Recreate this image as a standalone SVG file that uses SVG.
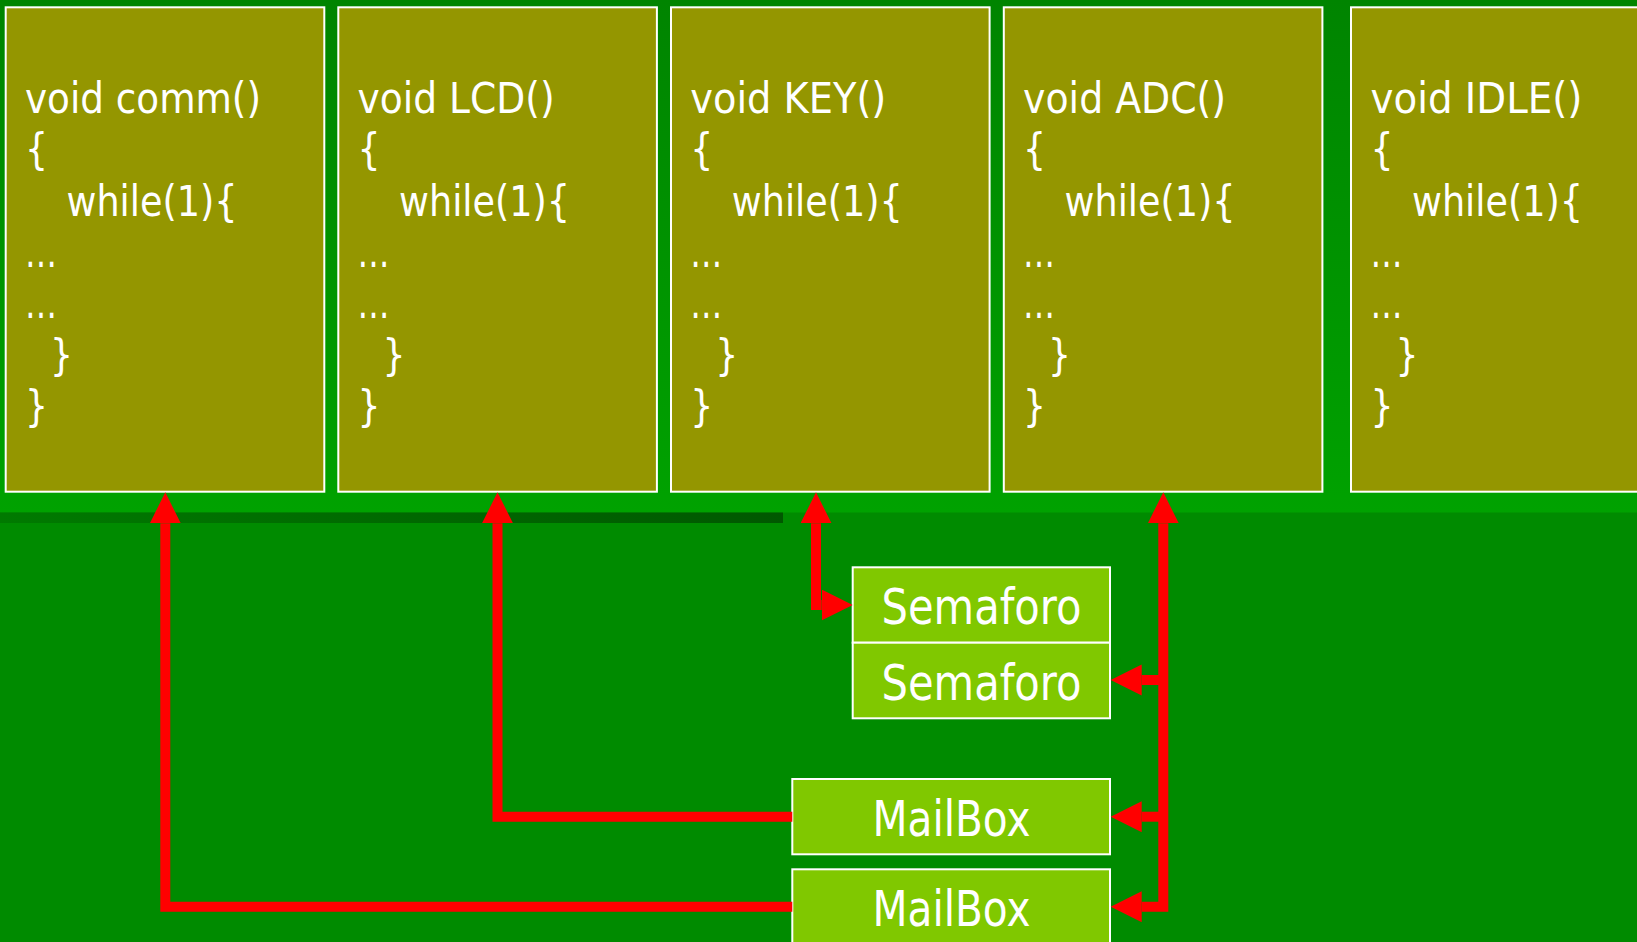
<svg xmlns="http://www.w3.org/2000/svg" width="1637" height="942" viewBox="0 0 1637 942">
<defs>
<linearGradient id="topband" x1="0" y1="0" x2="0" y2="1">
<stop offset="0" stop-color="#008400"/>
<stop offset="1" stop-color="#00a200"/>
</linearGradient>
<linearGradient id="darkbar" x1="0" y1="0" x2="1" y2="0">
<stop offset="0" stop-color="#007a00"/>
<stop offset="1" stop-color="#005800"/>
</linearGradient>
<marker id="ah" markerUnits="userSpaceOnUse" markerWidth="32" markerHeight="32" refX="0" refY="15.5" orient="auto-start-reverse" viewBox="0 0 32 32">
<path d="M0,0 L31,15.5 L0,31 Z" fill="#ff0000"/>
</marker>
<style>
.task{fill:#949600;stroke:#ffffff;stroke-width:2}
.code{font-family:"DejaVu Sans","Noto Sans",sans-serif;font-size:43px;fill:#ffffff}
.obj{fill:#80c800;stroke:#ffffff;stroke-width:2}
.lbl{font-family:"DejaVu Sans","Noto Sans",sans-serif;font-size:49px;fill:#ffffff;text-anchor:middle}
.wire{fill:none;stroke:#ff0000;stroke-width:10;stroke-linejoin:miter}
</style>
</defs>
<rect x="0" y="0" width="1637" height="942" fill="#008b00"/>
<rect x="0" y="0" width="1637" height="512.5" fill="url(#topband)"/>
<rect x="0" y="512.5" width="783" height="10.5" fill="url(#darkbar)"/>

<g id="task-comm">
<rect class="task" x="5.7" y="7.3" width="318.6" height="484.4"/>
<text class="code" x="25" y="113" textLength="236" lengthAdjust="spacingAndGlyphs">void comm()</text>
<text class="code" x="25" y="164" textLength="23" lengthAdjust="spacingAndGlyphs">{</text>
<text class="code" x="66.5" y="215.5" textLength="171" lengthAdjust="spacingAndGlyphs">while(1){</text>
<text class="code" x="25" y="267" textLength="32" lengthAdjust="spacingAndGlyphs">…</text>
<text class="code" x="25" y="318" textLength="32" lengthAdjust="spacingAndGlyphs">…</text>
<text class="code" x="50" y="369.5" textLength="23" lengthAdjust="spacingAndGlyphs">}</text>
<text class="code" x="25" y="421" textLength="23" lengthAdjust="spacingAndGlyphs">}</text>
</g>
<g id="task-lcd">
<rect class="task" x="338.3" y="7.3" width="318.6" height="484.4"/>
<text class="code" x="357.6" y="113" textLength="197" lengthAdjust="spacingAndGlyphs">void LCD()</text>
<text class="code" x="357.6" y="164" textLength="23" lengthAdjust="spacingAndGlyphs">{</text>
<text class="code" x="399.1" y="215.5" textLength="171" lengthAdjust="spacingAndGlyphs">while(1){</text>
<text class="code" x="357.6" y="267" textLength="32" lengthAdjust="spacingAndGlyphs">…</text>
<text class="code" x="357.6" y="318" textLength="32" lengthAdjust="spacingAndGlyphs">…</text>
<text class="code" x="382.6" y="369.5" textLength="23" lengthAdjust="spacingAndGlyphs">}</text>
<text class="code" x="357.6" y="421" textLength="23" lengthAdjust="spacingAndGlyphs">}</text>
</g>
<g id="task-key">
<rect class="task" x="671" y="7.3" width="318.6" height="484.4"/>
<text class="code" x="690.3" y="113" textLength="196" lengthAdjust="spacingAndGlyphs">void KEY()</text>
<text class="code" x="690.3" y="164" textLength="23" lengthAdjust="spacingAndGlyphs">{</text>
<text class="code" x="731.8" y="215.5" textLength="171" lengthAdjust="spacingAndGlyphs">while(1){</text>
<text class="code" x="690.3" y="267" textLength="32" lengthAdjust="spacingAndGlyphs">…</text>
<text class="code" x="690.3" y="318" textLength="32" lengthAdjust="spacingAndGlyphs">…</text>
<text class="code" x="715.3" y="369.5" textLength="23" lengthAdjust="spacingAndGlyphs">}</text>
<text class="code" x="690.3" y="421" textLength="23" lengthAdjust="spacingAndGlyphs">}</text>
</g>
<g id="task-adc">
<rect class="task" x="1003.8" y="7.3" width="318.6" height="484.4"/>
<text class="code" x="1023.1" y="113" textLength="203" lengthAdjust="spacingAndGlyphs">void ADC()</text>
<text class="code" x="1023.1" y="164" textLength="23" lengthAdjust="spacingAndGlyphs">{</text>
<text class="code" x="1064.6" y="215.5" textLength="171" lengthAdjust="spacingAndGlyphs">while(1){</text>
<text class="code" x="1023.1" y="267" textLength="32" lengthAdjust="spacingAndGlyphs">…</text>
<text class="code" x="1023.1" y="318" textLength="32" lengthAdjust="spacingAndGlyphs">…</text>
<text class="code" x="1048.1" y="369.5" textLength="23" lengthAdjust="spacingAndGlyphs">}</text>
<text class="code" x="1023.1" y="421" textLength="23" lengthAdjust="spacingAndGlyphs">}</text>
</g>
<g id="task-idle">
<rect class="task" x="1351" y="7.3" width="318.6" height="484.4"/>
<text class="code" x="1370.5" y="113" textLength="212" lengthAdjust="spacingAndGlyphs">void IDLE()</text>
<text class="code" x="1370.5" y="164" textLength="23" lengthAdjust="spacingAndGlyphs">{</text>
<text class="code" x="1412" y="215.5" textLength="171" lengthAdjust="spacingAndGlyphs">while(1){</text>
<text class="code" x="1370.5" y="267" textLength="32" lengthAdjust="spacingAndGlyphs">…</text>
<text class="code" x="1370.5" y="318" textLength="32" lengthAdjust="spacingAndGlyphs">…</text>
<text class="code" x="1395.5" y="369.5" textLength="23" lengthAdjust="spacingAndGlyphs">}</text>
<text class="code" x="1370.5" y="421" textLength="23" lengthAdjust="spacingAndGlyphs">}</text>
</g>

<g id="sem1">
<rect class="obj" x="852.7" y="567.3" width="257.3" height="75.4"/>
<text class="lbl" x="981.5" y="624" textLength="200" lengthAdjust="spacingAndGlyphs">Semaforo</text>
</g>
<g id="sem2">
<rect class="obj" x="852.7" y="642.7" width="257.3" height="75.6"/>
<text class="lbl" x="981.5" y="700" textLength="200" lengthAdjust="spacingAndGlyphs">Semaforo</text>
</g>
<g id="mbox1">
<rect class="obj" x="792.3" y="779" width="317.7" height="75.3"/>
<text class="lbl" x="951.5" y="836" textLength="158" lengthAdjust="spacingAndGlyphs">MailBox</text>
</g>
<g id="mbox2">
<rect class="obj" x="792.3" y="869.3" width="317.7" height="90"/>
<text class="lbl" x="951.5" y="926" textLength="158" lengthAdjust="spacingAndGlyphs">MailBox</text>
</g>

<g id="connectors">
<path class="wire" d="M792.3,906.7 H165.3 V523.3" marker-end="url(#ah)"/>
<path class="wire" d="M792.3,816.7 H497.5 V523.3" marker-end="url(#ah)"/>
<path class="wire" d="M816,523.3 V605 H821.7" marker-start="url(#ah)" marker-end="url(#ah)"/>
<path class="wire" d="M1163.3,523.3 V906.7 H1141.7" marker-start="url(#ah)" marker-end="url(#ah)"/>
<path class="wire" d="M1163.3,680 H1141.7" marker-end="url(#ah)"/>
<path class="wire" d="M1163.3,816.7 H1141.7" marker-end="url(#ah)"/>
</g>
</svg>
